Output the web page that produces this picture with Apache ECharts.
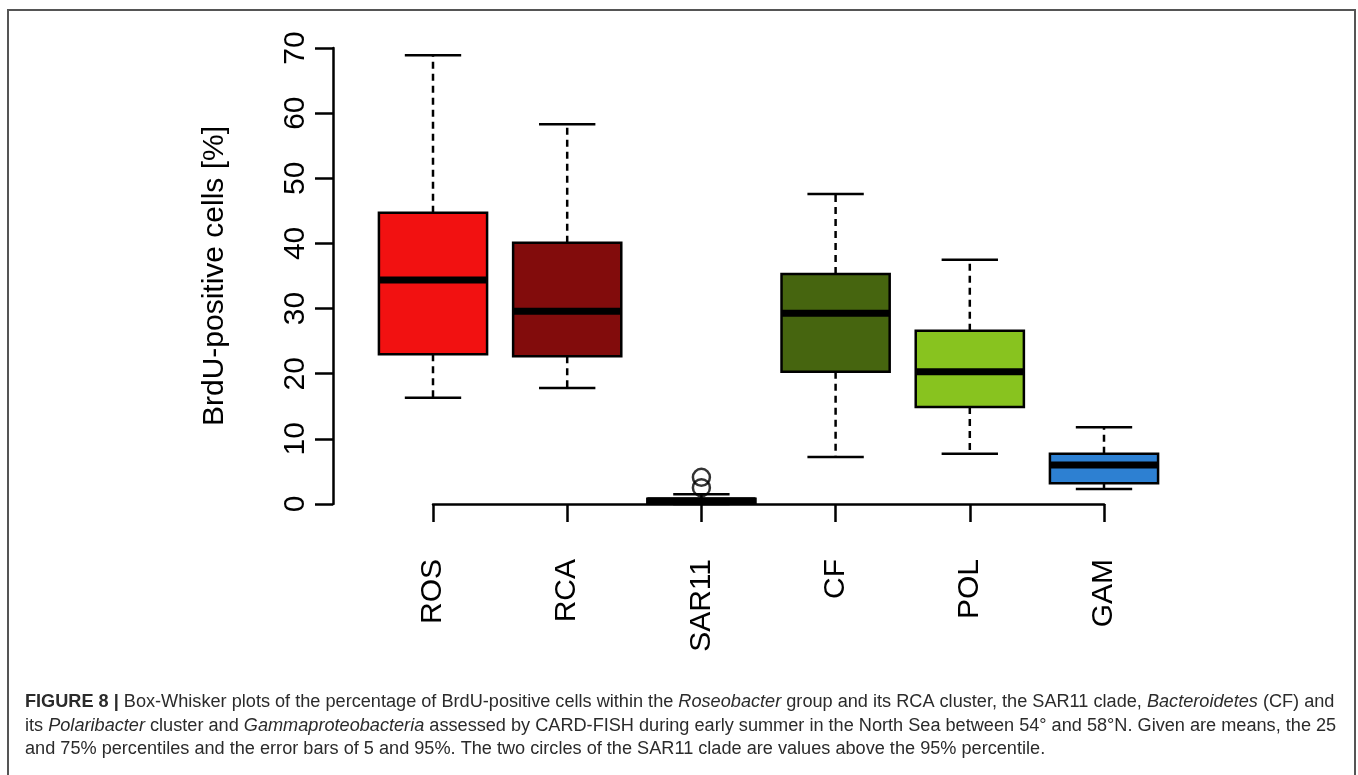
<!DOCTYPE html>
<html>
<head>
<meta charset="utf-8">
<title>BrdU-positive cells box plot</title>
<script src="https://cdn.jsdelivr.net/npm/echarts@6/dist/echarts.min.js"></script>
<style>
  html, body { margin: 0; padding: 0; background: #fff; }
  #chart { width: 1358px; height: 775px; }
</style>
</head>
<body>
<div id="chart"></div>
<script>
// groups on the x axis
var categories = ['ROS', 'RCA', 'SAR11', 'CF', 'POL', 'GAM'];
// 5 / 25 / 50 / 75 / 95 percentiles
var whiskerLow  = [16.3, 17.8, 0.0,  7.2,  7.7, 2.3];
var quartile1   = [23.0, 22.7, 0.2, 20.3, 14.9, 3.2];
var medians     = [34.4, 29.6, 0.5, 29.3, 20.3, 6.0];
var quartile3   = [44.7, 40.1, 0.8, 35.3, 26.6, 7.7];
var whiskerHigh = [68.9, 58.3, 1.5, 47.6, 37.5, 11.8];
// the two SAR11 values above the 95% percentile
var outlierGroups = ['SAR11', 'SAR11'];
var outlierValues = [4.1, 2.5];
// y axis ticks
var yMin = 0, yMax = 70, yStep = 10;

var boxColors = ['#f21111', '#820c0c', '#ffffff', '#46650f', '#88c31f', '#2d80d2'];

var captionLines = [
  '{b|FIGURE 8 |} Box-Whisker plots of the percentage of BrdU-positive cells within the {i|Roseobacter} group and its RCA cluster, the SAR11 clade, {i|Bacteroidetes} (CF) and',
  'its {i|Polaribacter} cluster and {i|Gammaproteobacteria} assessed by CARD-FISH during early summer in the North Sea between 54\u00b0 and 58\u00b0N. Given are means, the 25',
  'and 75% percentiles and the error bars of 5 and 95%. The two circles of the SAR11 clade are values above the 95% percentile.'
];
var captionFont = 'Liberation Sans';

//把数组拼成 custom series 的数据
function buildBoxData() {
    var out = [];
    for (var i = 0; i < categories.length; i++) {
        out.push([i, whiskerLow[i], quartile1[i], medians[i], quartile3[i], whiskerHigh[i]]);
    }
    return out;
}

//按第一行的宽度算说明文字的字号
function fitCaptionSize(target) {
    var ctx = document.createElement('canvas').getContext('2d');
    var plain = captionLines[0].replace(/\{[bi]\|([^}]*)\}/g, '$1');
    ctx.font = '16px "' + captionFont + '"';
    var w = ctx.measureText(plain).width;
    return 16 * target / w;
}

//画一个箱线
function renderBox(params, api) {
    var idx = api.value(0);
    var x = api.coord([idx, 0])[0];
    var band = api.size([1, 0])[0];
    var half = band * 0.403;
    var capHalf = band * 0.21;
    var yLow = api.coord([idx, api.value(1)])[1];
    var yQ1 = api.coord([idx, api.value(2)])[1];
    var yMed = api.coord([idx, api.value(3)])[1];
    var yQ3 = api.coord([idx, api.value(4)])[1];
    var yHigh = api.coord([idx, api.value(5)])[1];
    var dash = { stroke: '#000', lineWidth: 2.5, lineDash: [7, 5] };
    var solid = { stroke: '#000', lineWidth: 2.5 };
    return {
        type: 'group',
        children: [
            { type: 'line', shape: { x1: x, y1: yQ1, x2: x, y2: yLow }, style: dash },
            { type: 'line', shape: { x1: x, y1: yQ3, x2: x, y2: yHigh }, style: dash },
            { type: 'line', shape: { x1: x - capHalf, y1: yLow, x2: x + capHalf, y2: yLow }, style: solid },
            { type: 'line', shape: { x1: x - capHalf, y1: yHigh, x2: x + capHalf, y2: yHigh }, style: solid },
            { type: 'rect', shape: { x: x - half, y: yQ3, width: half * 2, height: yQ1 - yQ3 },
              style: { fill: boxColors[params.dataIndex], stroke: '#000', lineWidth: 2.5 } },
            { type: 'line', shape: { x1: x - half, y1: yMed, x2: x + half, y2: yMed },
              style: { stroke: '#000', lineWidth: 7 } }
        ]
    };
}

function generateChart() {
    var myChart = echarts.init(document.getElementById('chart'));
    var axisFont = { fontFamily: 'Liberation Sans', fontSize: 30, color: '#000' };
    var outliers = [];
    for (var k = 0; k < outlierGroups.length; k++) {
        outliers.push([outlierGroups[k], outlierValues[k]]);
    }
    var capSize = fitCaptionSize(1310);
    var captionItems = captionLines.map(function (line, n) {
        return {
            type: 'text',
            left: 25,
            top: 693 + n * 23.5,
            style: {
                text: line,
                fill: '#2b2b2b',
                fontFamily: captionFont,
                fontSize: capSize,
                rich: {
                    b: { fontWeight: 'bold', fontFamily: captionFont, fontSize: capSize, fill: '#2b2b2b' },
                    i: { fontStyle: 'italic', fontFamily: captionFont, fontSize: capSize, fill: '#2b2b2b' }
                }
            }
        };
    });
    var option = {
        backgroundColor: '#fff',
        animation: false,
        grid: { left: 433, right: 254, top: 48, bottom: 271 },
        xAxis: {
            type: 'category',
            data: categories,
            boundaryGap: false,
            offset: 19,
            axisLine: { lineStyle: { color: '#000', width: 2.5 } },
            axisTick: { length: 18, lineStyle: { color: '#000', width: 2.5 } },
            axisLabel: Object.assign({ rotate: 90, margin: 36, interval: 0 }, axisFont),
            splitLine: { show: false }
        },
        yAxis: {
            type: 'value',
            min: yMin,
            max: yMax,
            interval: yStep,
            offset: 100,
            name: 'BrdU-positive cells [%]',
            nameLocation: 'middle',
            nameRotate: 90,
            nameGap: 103,
            nameTextStyle: axisFont,
            axisLine: { show: true, lineStyle: { color: '#000', width: 2.5 } },
            axisTick: { show: true, length: 18, lineStyle: { color: '#000', width: 2.5 } },
            axisLabel: Object.assign({ rotate: 90, margin: 22 }, axisFont),
            splitLine: { show: false }
        },
        graphic: [
            { type: 'rect', shape: { x: 8, y: 10, width: 1347, height: 800 },
              style: { fill: 'none', stroke: '#555', lineWidth: 2 }, silent: true }
        ].concat(captionItems),
        series: [
            {
                type: 'custom',
                renderItem: renderBox,
                encode: { x: 0, y: [1, 2, 3, 4, 5] },
                data: buildBoxData(),
                clip: false,
                z: 2
            },
            {
                type: 'scatter',
                data: outliers,
                symbol: 'circle',
                symbolSize: 17,
                itemStyle: { color: 'rgba(0,0,0,0)', borderColor: '#000', borderWidth: 2.5 },
                clip: false,
                z: 3
            }
        ]
    };
    myChart.setOption(option);
}

generateChart();
</script>
</body>
</html>
